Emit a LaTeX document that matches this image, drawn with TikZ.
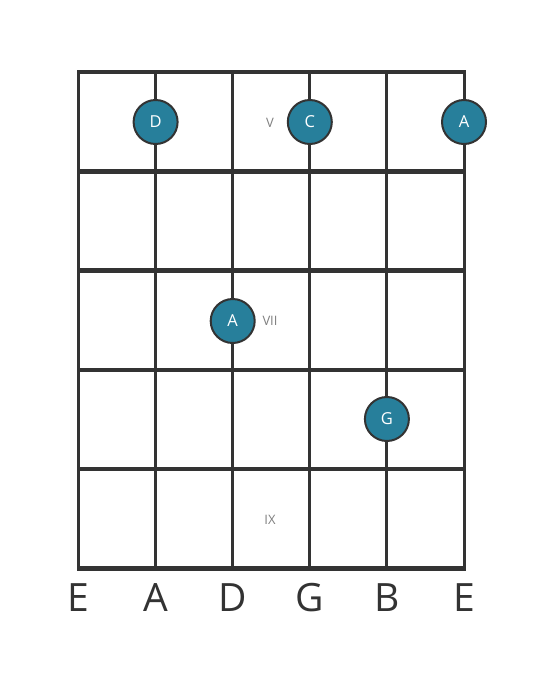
\documentclass[tikz,border=0pt]{standalone}
\usepackage{fontspec}
\setmainfont{Open Sans}
\usepackage{xcolor}
\usetikzlibrary{positioning}
\definecolor{fretgray}{HTML}{333333}
\definecolor{noteteal}{HTML}{277F9B}
\tikzset{
  note/.style={circle, draw=fretgray, line width=2pt, fill=noteteal,
    minimum size=44pt, inner sep=0pt, text=white, font=\fontsize{16.5}{16.5}\selectfont},
  fretnum/.style={text=gray, font=\fontsize{13}{13}\selectfont},
  strname/.style={text=fretgray, font=\fontsize{39}{39}\selectfont}
}
\begin{document}
\begin{tikzpicture}[x=1pt, y=-1pt]
\useasboundingbox[fill=white] (0,0) rectangle (559,682);

% strings
\foreach \s in {0,...,5}
  \draw[fretgray, line width=3pt] ({78.5+77.1*\s},72) -- ({78.5+77.1*\s},568.5);

% frets
\foreach \f in {0,...,5}
  \draw[fretgray, line width=4.5pt] (77,{72+99.3*\f}) -- (465.5,{72+99.3*\f});

% fret numbers
\node[fretnum] (fretV) at (270,123) {V};
\node[fretnum] (fretVII) at (270,321) {VII};
\node[fretnum] (fretIX) at (270,520) {IX};

% notes
\node[note] (noteD) at (155.6,122) {D};
\node[note] (noteC) at (309.8,122) {C};
\node[note] (noteAhi) at (464,122) {A};
\node[note] (noteAlo) at (232.7,321) {A};
\node[note] (noteG) at (386.9,419) {G};

% string names
\node[strname] (nameElo) at (78.5,598) {E};
\node[strname] (nameA) at (155.6,598) {A};
\node[strname] (nameD) at (232.7,598) {D};
\node[strname] (nameG) at (309.8,598) {G};
\node[strname] (nameB) at (386.9,598) {B};
\node[strname] (nameEhi) at (464,598) {E};

\end{tikzpicture}
\end{document}
